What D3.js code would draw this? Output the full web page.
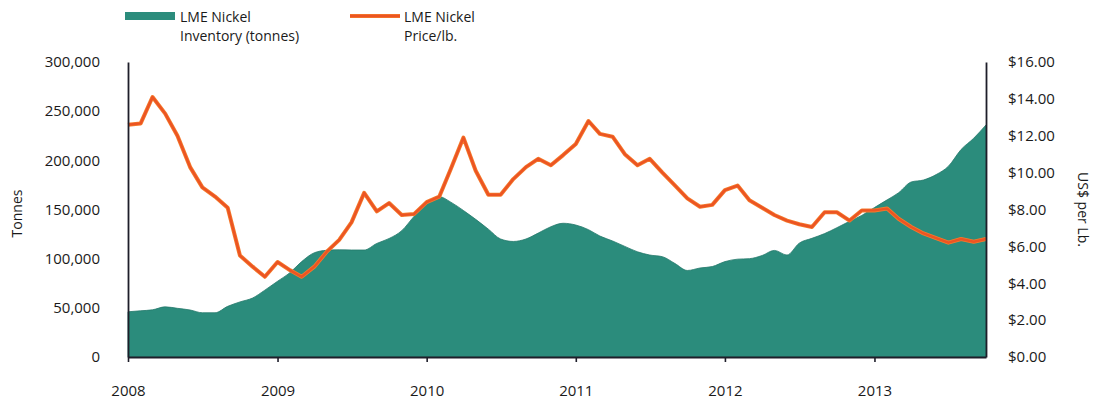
<!DOCTYPE html>
<html>
<head>
<meta charset="utf-8">
<script src="https://cdn.jsdelivr.net/npm/d3@7/dist/d3.min.js"></script>
<style>
  html, body { margin: 0; padding: 0; background: #fff; }
  svg { display: block; font-family: "Open Sans", "Noto Sans", sans-serif; }
</style>
</head>
<body>
<svg id="chart" width="1106" height="402"></svg>
<script>
// ---- Data (monthly, Jan 2008 – Oct 2013) ----
const startMonth = "2008-01";
const inventoryTonnes = [
  46000, 47000, 48000, 51000, 49500, 47800, 45000, 45000, 51500, 56000, 60000, 68000,
  77000, 86000, 97000, 106000, 108500, 109000, 108800, 108800, 115500, 120500, 128500, 143000,
  157000, 163000, 157500, 149000, 140000, 130000, 120000, 117500, 120000, 126000, 132500, 136000,
  134200, 129500, 123000, 118000, 112500, 107000, 103700, 102000, 95000, 88000, 90500, 92000,
  97000, 99500, 100000, 103200, 108400, 103700, 115800, 120700, 125500, 131500, 138000, 144000,
  152000, 159800, 167000, 178000, 180000, 185500, 194000, 211000, 222500, 236000
];
const pricePerLb = [
  12.6, 12.67, 14.1, 13.2, 12.0, 10.3, 9.2, 8.7, 8.1, 5.5, 4.9, 4.35,
  5.15, 4.7, 4.35, 4.9, 5.7, 6.35, 7.3, 8.9, 7.9, 8.35, 7.7, 7.75,
  8.4, 8.7, 10.2, 11.9, 10.1, 8.8, 8.8, 9.65, 10.3, 10.75, 10.4, 10.95,
  11.55, 12.8, 12.1, 11.95, 11.0, 10.4, 10.75, 10.0, 9.3, 8.6, 8.15, 8.25,
  9.05, 9.3, 8.5, 8.1, 7.7, 7.4, 7.2, 7.05, 7.85, 7.85, 7.4, 7.95,
  7.95, 8.05, 7.5, 7.05, 6.7, 6.45, 6.2, 6.4, 6.25, 6.4
];
const yearTicks = [2008, 2009, 2010, 2011, 2012, 2013];
const leftTicks = [0, 50000, 100000, 150000, 200000, 250000, 300000];
const rightTicks = [0, 2, 4, 6, 8, 10, 12, 14, 16];
const legendLabels = [["LME Nickel", "Inventory (tonnes)"], ["LME Nickel", "Price/lb."]];
const leftTitle = "Tonnes";
const rightTitle = "US$ per Lb.";

// ---- Layout ----
const plot = { left: 128, right: 986, top: 62, bottom: 357 };
const teal = "#2b8c7c";
const orange = "#ec5423";

const svg = d3.select("#chart");
const parse = d3.timeParse("%Y-%m");
const t0 = parse(startMonth);
const dates = inventoryTonnes.map((_, i) => d3.timeMonth.offset(t0, i));
const data = dates.map((d, i) => ({ date: d, inv: inventoryTonnes[i], price: pricePerLb[i] }));

const x = d3.scaleTime()
  .domain([t0, dates[dates.length - 1]])
  .range([plot.left, plot.right]);
const yL = d3.scaleLinear().domain([0, 300000]).range([plot.bottom, plot.top]);
const yR = d3.scaleLinear().domain([0, 16]).range([plot.bottom, plot.top]);

// Area
const area = d3.area()
  .x(d => x(d.date))
  .y0(plot.bottom)
  .y1(d => yL(d.inv))
  .curve(d3.curveMonotoneX);
svg.append("path").datum(data)
  .attr("d", area)
  .attr("fill", teal)
  .attr("stroke", "#25786b")
  .attr("stroke-width", 0.8);

// Price line
const line = d3.line()
  .x(d => x(d.date))
  .y(d => yR(d.price))
  .curve(d3.curveLinear);
svg.append("path").datum(data)
  .attr("d", line)
  .attr("fill", "none")
  .attr("stroke", "#f47b2c")
  .attr("stroke-width", 4)
  .attr("stroke-linejoin", "round");
svg.append("path").datum(data)
  .attr("d", line)
  .attr("fill", "none")
  .attr("stroke", orange)
  .attr("stroke-width", 2.4)
  .attr("stroke-linejoin", "round");

const fmt = d3.format(",");
// Left axis
const gL = svg.append("g")
  .attr("transform", `translate(${plot.left},0)`)
  .call(d3.axisLeft(yL).tickValues(leftTicks).tickFormat(fmt).tickSize(0).tickSizeOuter(0).tickPadding(28));
// Right axis
const gR = svg.append("g")
  .attr("transform", `translate(${plot.right},0)`)
  .call(d3.axisRight(yR).tickValues(rightTicks).tickFormat(d => "$" + d.toFixed(2)).tickSize(0).tickSizeOuter(0).tickPadding(22));
// Bottom axis
const gB = svg.append("g")
  .attr("transform", `translate(0,${plot.bottom})`)
  .call(d3.axisBottom(x)
    .tickValues(yearTicks.map(yv => new Date(yv, 0, 1)))
    .tickFormat(d3.timeFormat("%Y"))
    .tickSize(5).tickSizeOuter(0).tickPadding(23));

[gL, gR, gB].forEach(g => {
  g.select(".domain").attr("stroke", "#1e1e2a").attr("stroke-width", 1.8);
  g.selectAll(".tick line").attr("stroke", "#1e1e2a").attr("stroke-width", 1.6);
  g.selectAll(".tick text")
    .attr("fill", "#1a1a1a")
    .style("font-size", "15px")
    .style("font-family", "'Open Sans', 'Noto Sans', sans-serif");
});

// Axis titles
svg.append("text")
  .attr("transform", `translate(22,${(plot.top + plot.bottom) / 2 + 4}) rotate(-90)`)
  .attr("text-anchor", "middle")
  .style("font-size", "14px")
  .attr("fill", "#1a1a1a")
  .text(leftTitle);
svg.append("text")
  .attr("transform", `translate(1078,${(plot.top + plot.bottom) / 2}) rotate(90)`)
  .attr("text-anchor", "middle")
  .style("font-size", "14px")
  .attr("fill", "#1a1a1a")
  .text(rightTitle);

// Legend
const lg = svg.append("g");
lg.append("rect").attr("x", 125).attr("y", 12).attr("width", 50).attr("height", 8).attr("fill", teal);
lg.append("line").attr("x1", 350).attr("x2", 400).attr("y1", 16).attr("y2", 16)
  .attr("stroke", "#f47b2c").attr("stroke-width", 4);
lg.append("line").attr("x1", 350).attr("x2", 400).attr("y1", 16).attr("y2", 16)
  .attr("stroke", orange).attr("stroke-width", 2.4);
const legX = [180, 404];
legendLabels.forEach((lines, i) => {
  const t = lg.append("text").attr("x", legX[i]).attr("y", 22)
    .style("font-size", "14px").attr("fill", "#1a1a1a");
  lines.forEach((s, j) => {
    t.append("tspan").attr("x", legX[i]).attr("dy", j === 0 ? 0 : 19).text(s);
  });
});
</script>
</body>
</html>
